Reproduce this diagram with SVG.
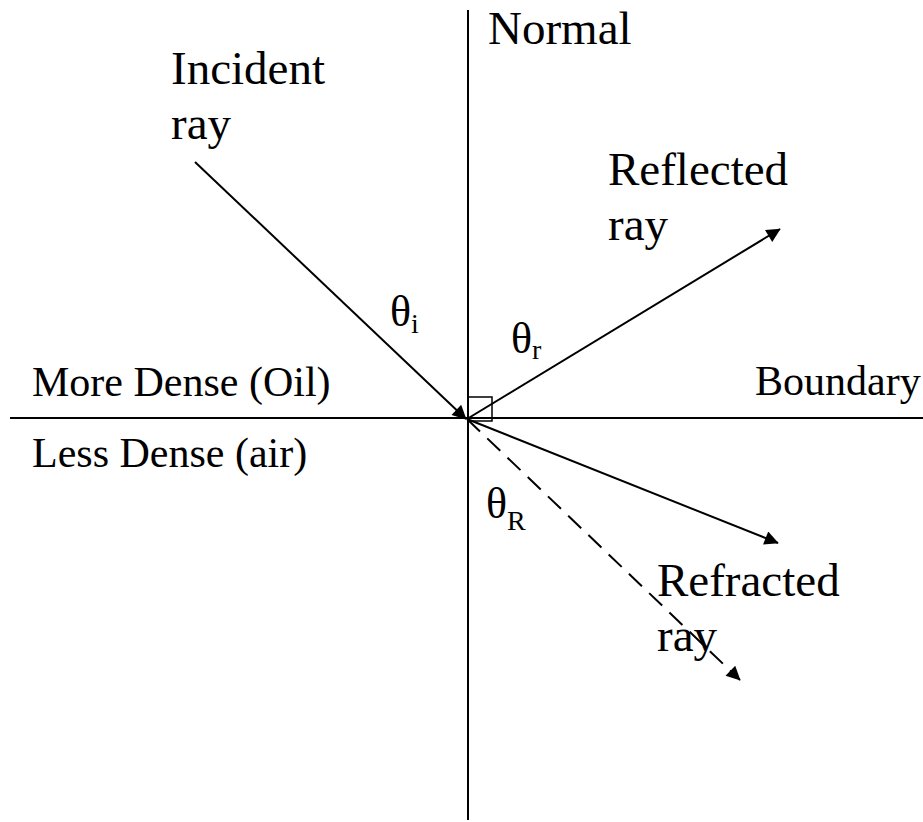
<svg xmlns="http://www.w3.org/2000/svg" width="923" height="822" viewBox="0 0 923 822">
  <style>
    .ln { stroke: #000; stroke-width: 2; fill: none; }
    text { font-family: 'Liberation Serif', 'Times New Roman', 'DejaVu Serif', serif; fill: #000; }
    .big { font-size: 47px; }
    .med { font-size: 42px; }
    .th { font-size: 44px; }
    .sub { font-size: 28px; }
  </style>
  <defs>
    <marker id="arr" viewBox="0 0 10 10" markerUnits="userSpaceOnUse" markerWidth="18" markerHeight="14" refX="9.5" refY="5" orient="auto">
      <path d="M0,0 L10,5 L0,10 z" fill="#000"/>
    </marker>
  </defs>

  <g id="axes">
    <line class="ln" x1="468" y1="10" x2="468" y2="820"/>
    <line class="ln" x1="10" y1="418" x2="923" y2="418"/>
    <rect x="468" y="397" width="24" height="24" fill="none" stroke="#000" stroke-width="1.5"/>
  </g>

  <g id="connectors">
    <line class="ln" x1="195" y1="162" x2="466" y2="419" marker-end="url(#arr)"/>
    <line class="ln" x1="467" y1="419" x2="780" y2="229" marker-end="url(#arr)"/>
    <line class="ln" x1="467" y1="419" x2="778" y2="543" marker-end="url(#arr)"/>
    <line class="ln" x1="467" y1="419" x2="740" y2="680" stroke-dasharray="18 10" marker-end="url(#arr)"/>
  </g>

  <g id="normal-label"><text class="big" font-family="Liberation Serif, serif" x="488" y="44">Normal</text></g>
  <g id="incident-label">
    <text class="big" font-family="Liberation Serif, serif" x="171" y="84">Incident</text>
    <text class="big" font-family="Liberation Serif, serif" x="171" y="139">ray</text>
  </g>
  <g id="reflected-label">
    <text class="big" font-family="Liberation Serif, serif" x="608" y="185">Reflected</text>
    <text class="big" font-family="Liberation Serif, serif" x="608" y="240">ray</text>
  </g>
  <g id="refracted-label">
    <text class="big" font-family="Liberation Serif, serif" x="657" y="596">Refracted</text>
    <text class="big" font-family="Liberation Serif, serif" x="657" y="651">ray</text>
  </g>
  <g id="boundary-labels">
    <text class="med" font-family="Liberation Serif, serif" x="32" y="396">More Dense (Oil)</text>
    <text class="med" font-family="Liberation Serif, serif" x="32" y="467">Less Dense (air)</text>
    <text class="med" font-family="Liberation Serif, serif" x="755" y="395">Boundary</text>
  </g>
  <g id="angle-labels">
    <text class="th" font-family="Liberation Serif, serif" x="390" y="326">θ<tspan class="sub" dy="7">i</tspan></text>
    <text class="th" font-family="Liberation Serif, serif" x="511" y="353">θ<tspan class="sub" dy="6">r</tspan></text>
    <text class="th" font-family="Liberation Serif, serif" x="486" y="518">θ<tspan class="sub" dy="12">R</tspan></text>
  </g>
</svg>
